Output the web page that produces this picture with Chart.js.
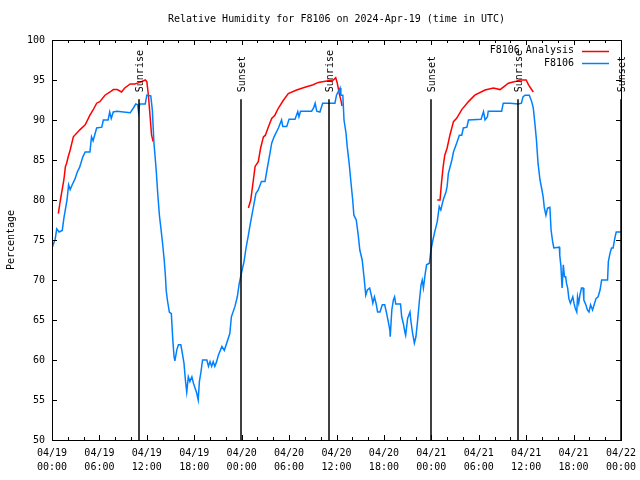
<!DOCTYPE html>
<html><head><meta charset="utf-8">
<script src="https://cdn.jsdelivr.net/npm/chart.js@4.4.0/dist/chart.umd.min.js"></script>
<style>html,body{margin:0;padding:0;background:#fff}#wrap{width:640px;height:480px}</style>
</head><body><div id="wrap"><canvas id="c" width="640" height="480"></canvas></div>
<script>
const titleText = 'Relative Humidity for F8106 on 2024-Apr-19 (time in UTC)';
const yAxisLabel = 'Percentage';
const startDay = 19; // 2024-04-19 00:00 UTC
const monthLabel = '04';
const xTickHours = [0, 6, 12, 18, 24, 30, 36, 42, 48, 54, 60, 66, 72];
const yTickValues = [50, 55, 60, 65, 70, 75, 80, 85, 90, 95, 100];
const analysisLabel = 'F8106 Analysis';
const obsLabel = 'F8106';

const obsHours = [0.0,0.4,0.6,0.9,1.3,1.5,1.9,2.1,2.3,2.6,2.9,3.2,3.5,3.9,4.2,4.8,5.0,5.2,5.65,6.3,6.5,7.1,7.3,7.5,7.75,8.2,9.9,10.3,10.6,10.85,10.95,11.1,11.8,12.0,12.5,12.7,12.9,13.0,13.2,13.4,13.6,13.8,14.0,14.2,14.35,14.45,14.6,14.85,15.1,15.3,15.45,15.55,15.8,16.0,16.3,16.5,16.7,16.9,17.05,17.25,17.45,17.7,17.9,18.1,18.3,18.5,18.65,18.85,19.05,19.6,19.8,20.0,20.2,20.4,20.6,20.8,21.05,21.5,21.8,22.1,22.5,22.7,23.15,23.45,23.7,24.0,24.3,24.55,24.85,25.05,25.5,25.8,26.1,26.5,26.95,27.2,27.5,27.8,28.1,28.65,29.05,29.2,29.7,30.0,30.75,31.1,31.25,31.45,32.85,33.1,33.3,33.5,33.9,34.25,35.8,36.0,36.45,36.55,36.8,36.95,37.2,37.35,37.6,37.8,38.05,38.2,38.5,38.75,38.95,39.25,39.5,39.7,39.9,40.2,40.45,40.6,40.8,41.0,41.2,41.5,41.8,42.1,42.35,42.55,42.75,42.8,43.0,43.2,43.35,43.5,44.1,44.25,44.45,44.65,44.75,45.0,45.3,45.4,45.6,45.85,46.05,46.25,46.5,46.7,46.85,47.0,47.2,47.4,47.75,47.95,48.2,48.45,48.75,49.0,49.2,49.5,49.85,50.0,50.15,50.6,50.8,51.2,51.55,51.85,52.05,52.5,52.7,54.3,54.6,54.8,55.1,55.2,56.9,57.1,57.95,59.0,59.4,59.6,59.85,60.4,60.7,60.9,61.1,61.3,61.5,61.75,61.95,62.15,62.3,62.5,62.7,63.0,63.15,63.35,63.5,64.2,64.25,64.4,64.5,64.55,64.7,64.85,65.0,65.1,65.25,65.4,65.6,65.9,66.05,66.2,66.4,66.5,66.65,66.8,67.0,67.2,67.3,67.55,67.75,67.95,68.15,68.4,68.6,68.85,69.1,69.35,69.55,70.3,70.4,70.6,70.8,71.0,71.25,71.4,72.0];
const obsValues = [74.0,75.1,76.4,76.0,76.2,77.7,80.0,81.9,81.3,82.0,82.6,83.5,84.1,85.4,86.0,86.0,87.9,87.4,89.0,89.1,90.0,90.0,91.0,90.2,91.0,91.1,90.9,91.5,92.0,91.9,91.0,92.0,92.0,93.1,93.0,91.2,87.1,86.0,83.5,80.5,78.0,76.3,74.5,72.5,70.5,68.7,67.5,66.0,65.8,62.3,60.4,59.9,61.3,61.9,61.9,60.8,59.6,57.3,56.0,57.9,57.3,57.9,57.1,56.5,55.9,55.0,57.3,58.5,60.0,60.0,59.2,59.8,59.2,59.8,59.2,59.7,60.6,61.7,61.2,62.1,63.3,65.4,66.7,67.9,69.6,71.0,72.3,74.0,75.6,76.8,79.2,80.8,81.25,82.3,82.3,83.75,85.4,87.1,87.9,89.0,90.0,89.2,89.2,90.1,90.1,91.05,90.4,91.1,91.1,91.5,92.1,91.1,91.0,92.1,92.1,93.1,94.0,93.1,93.1,90.0,88.4,86.7,84.6,82.5,80.0,78.1,77.5,75.6,73.75,72.5,70.2,68.1,68.75,69.0,67.9,67.1,67.9,67.1,66.0,66.0,66.9,66.9,65.8,64.8,63.75,62.9,66.25,67.5,67.9,67.0,67.0,65.4,64.6,63.5,63.1,65.2,66.0,65.0,63.5,62.1,62.9,64.8,67.5,69.4,70.0,69.0,70.6,71.9,72.1,73.75,75.0,76.1,77.3,79.2,78.75,80.0,81.0,81.7,83.3,85.0,86.0,87.1,88.1,88.1,89.0,89.1,90.0,90.1,91.05,90.0,90.4,91.1,91.1,92.1,92.1,92.0,92.1,92.9,93.1,93.1,92.3,91.5,89.6,87.5,84.6,82.5,81.5,80.4,79.0,78.1,79.0,79.1,76.25,74.8,74.0,74.1,73.1,71.7,69.8,69.0,71.9,70.4,70.4,69.6,69.0,67.7,67.1,67.9,67.1,66.5,66.0,67.9,67.1,68.1,69.0,69.0,67.5,66.9,66.25,66.0,66.9,66.25,66.9,67.7,67.9,68.75,70.0,70.0,72.3,73.3,74.0,74.0,75.4,76.0,76.0];

const anaHours = [0.8,1.0,1.2,1.5,1.7,1.85,2.05,2.3,2.7,3.55,4.2,4.8,5.2,5.65,6.05,6.7,7.35,7.75,8.25,8.8,9.2,9.9,10.5,11.1,11.8,12.0,12.2,12.4,12.6,12.8,
  18.0,
  24.85,25.15,25.4,25.7,26.1,26.4,26.75,27.0,27.4,27.8,28.2,28.65,29.3,29.9,30.95,32.0,33.05,33.7,34.95,35.6,35.9,36.1,36.35,36.6,36.7,
  42.0,
  48.75,49.1,49.3,49.5,49.7,50.0,50.35,50.8,51.2,51.85,52.7,53.5,54.8,55.85,56.7,57.75,58.6,59.2,60.0,60.3,60.9];
const anaValues = [78.3,79.6,80.8,82.5,84.2,84.6,85.4,86.25,87.9,88.8,89.4,90.6,91.25,92.1,92.3,93.1,93.5,93.8,93.8,93.5,94.0,94.5,94.5,94.7,95.0,94.8,93.1,90.6,88.1,87.3,
  null,
  79.0,80.0,81.9,84.2,84.8,86.5,87.9,88.1,89.2,90.2,90.6,91.5,92.5,93.3,93.75,94.1,94.4,94.7,94.9,95.0,95.3,94.6,93.3,92.3,91.75,
  null,
  80.0,80.0,82.3,84.2,85.6,86.5,88.1,89.8,90.2,91.3,92.3,93.1,93.75,94.0,93.8,94.6,94.8,95.0,95.0,94.4,93.5];

const sunriseHours = [11.0, 35.05, 58.95];
const sunsetHours = [23.9, 47.95, 72.0];

const FONT = '"DejaVu Sans Mono", "Liberation Mono", monospace';

function pad2(n){ return (n < 10 ? '0' : '') + n; }
function fmtHour(v){
  const day = startDay + Math.floor(v / 24);
  const hr = Math.round(v % 24);
  return [monthLabel + '/' + pad2(day), pad2(hr) + ':00'];
}

const decor = {
  id: 'decor',
  afterDatasetsDraw(chart){
    const ctx = chart.ctx;
    const a = chart.chartArea;
    const xs = chart.scales.x, ys = chart.scales.y;
    ctx.save();
    ctx.strokeStyle = '#000';
    ctx.lineWidth = 1;
    ctx.beginPath();
    for (let h = 0; h <= 72; h += 2) {
      const px = Math.round(xs.getPixelForValue(h)) + 0.5;
      const len = (h % 6 === 0) ? 5 : 3;
      ctx.moveTo(px, a.bottom); ctx.lineTo(px, a.bottom - len);
      ctx.moveTo(px, a.top); ctx.lineTo(px, a.top + len);
    }
    for (const v of yTickValues) {
      const py = Math.round(ys.getPixelForValue(v)) + 0.5;
      ctx.moveTo(a.left, py); ctx.lineTo(a.left + 5, py);
      ctx.moveTo(a.right, py); ctx.lineTo(a.right - 5, py);
    }
    ctx.stroke();
    ctx.strokeRect(Math.round(a.left) + 0.5, Math.round(a.top) + 0.5, Math.round(a.right - a.left), Math.round(a.bottom - a.top));
    const topPx = ys.getPixelForValue(92.6);
    ctx.lineWidth = 1.5;
    ctx.font = '10px ' + FONT;
    ctx.fillStyle = '#000';
    const marks = sunriseHours.map(h => [h, 'Sunrise']).concat(sunsetHours.map(h => [h, 'Sunset']));
    for (const [h, label] of marks) {
      const px = Math.round(xs.getPixelForValue(h));
      ctx.beginPath();
      ctx.moveTo(px, topPx); ctx.lineTo(px, a.bottom);
      ctx.stroke();
      ctx.save();
      ctx.translate(px + 1, topPx - 7);
      ctx.rotate(-Math.PI / 2);
      ctx.textAlign = 'left';
      ctx.textBaseline = 'middle';
      ctx.fillText(label, 0, 0);
      ctx.restore();
    }
    const ds = chart.data.datasets;
    ctx.textAlign = 'right';
    ctx.textBaseline = 'middle';
    ctx.lineWidth = 1.5;
    ds.forEach((d, i) => {
      const y = a.top + 10.5 + i * 12.5;
      ctx.fillStyle = '#000';
      ctx.fillText(d.label, a.right - 47, y);
      ctx.strokeStyle = d.borderColor;
      ctx.beginPath();
      ctx.moveTo(a.right - 39, Math.round(y) + 0.5);
      ctx.lineTo(a.right - 12, Math.round(y) + 0.5);
      ctx.stroke();
    });
    ctx.fillStyle = '#000';
    ctx.textAlign = 'center';
    ctx.textBaseline = 'middle';
    ctx.fillText(titleText, (a.left + a.right) / 2, 19);
    ctx.restore();
  }
};

new Chart(document.getElementById('c'), {
  type: 'line',
  data: {
    datasets: [
      { label: analysisLabel, data: anaHours.map((h, i) => ({x: h, y: anaValues[i]})),
        borderColor: '#ff0000', borderWidth: 1.5, pointRadius: 0, tension: 0, spanGaps: false, order: 1 },
      { label: obsLabel, data: obsHours.map((h, i) => ({x: h, y: obsValues[i]})),
        borderColor: '#0080ff', borderWidth: 1.5, pointRadius: 0, tension: 0, order: 0 }
    ]
  },
  options: {
    responsive: false, animation: false, devicePixelRatio: 1,
    layout: { padding: { top: 40, right: 19, left: 0, bottom: 0 } },
    plugins: { legend: { display: false }, title: { display: false }, tooltip: { enabled: false } },
    scales: {
      x: {
        type: 'linear', min: 0, max: 72,
        afterBuildTicks: s => { s.ticks = xTickHours.map(v => ({ value: v })); },
        afterFit: s => { s.height = 40; s.paddingLeft = 0; s.paddingRight = 0; },
        grid: { display: false, drawTicks: false },
        border: { display: false },
        ticks: { padding: 6, maxRotation: 0, autoSkip: false, color: '#000',
          font: { family: FONT, size: 10, lineHeight: 1.4 }, callback: v => fmtHour(v) }
      },
      y: {
        min: 50, max: 100,
        afterBuildTicks: s => { s.ticks = yTickValues.map(v => ({ value: v })); },
        afterFit: s => { s.width = 52; s.paddingTop = 0; s.paddingBottom = 0; },
        grid: { display: false, drawTicks: false },
        border: { display: false },
        ticks: { padding: 7, color: '#000', font: { family: FONT, size: 10 } },
        title: { display: true, text: yAxisLabel, color: '#000', font: { family: FONT, size: 10 }, padding: { top: 5, bottom: 0 } }
      }
    }
  },
  plugins: [decor]
});
</script>
</body></html>
